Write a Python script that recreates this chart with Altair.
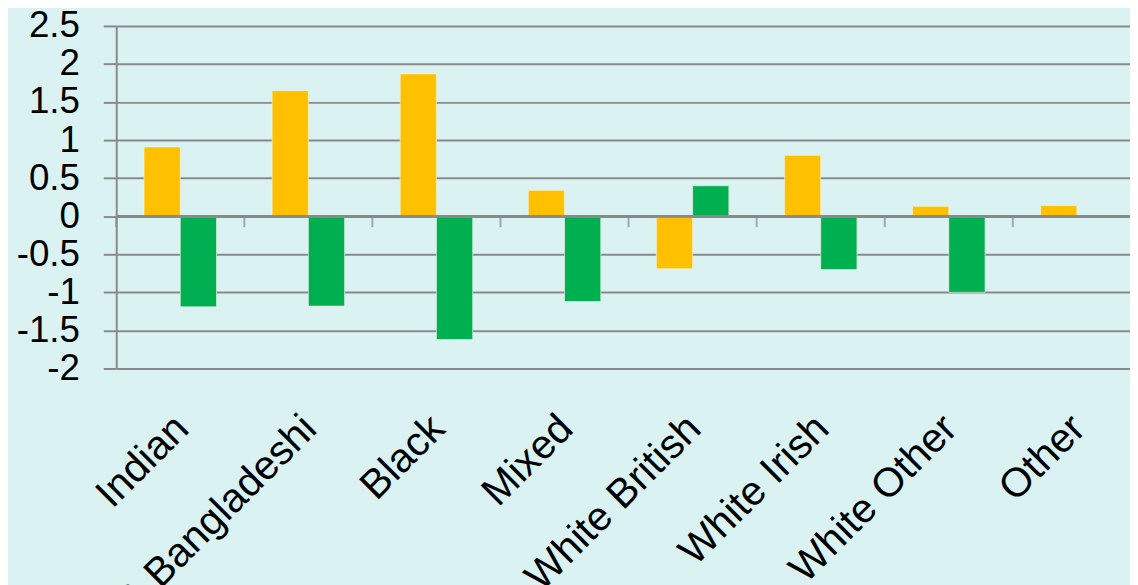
import altair as alt
import pandas as pd

categories = ["Indian", "Pakistani & Bangladeshi", "Black", "Mixed",
              "White British", "White Irish", "White Other", "Other"]
series_names = ["Series 1", "Series 2"]
yellow_values = [0.91, 1.65, 1.87, 0.34, -0.69, 0.80, 0.13, 0.14]
green_values = [-1.19, -1.18, -1.62, -1.12, 0.40, -0.70, -1.00, None]
y_ticks = [-2, -1.5, -1, -0.5, 0, 0.5, 1, 1.5, 2, 2.5]
colors = ["#FFC000", "#00B050"]

rows = []
for c, a, b in zip(categories, yellow_values, green_values):
    rows.append({"category": c, "series": series_names[0], "value": a})
    if b is not None:
        rows.append({"category": c, "series": series_names[1], "value": b})
df = pd.DataFrame(rows)
cat_df = pd.DataFrame({"category": categories})

GRAY = "#8A8A8A"
FONT = "Liberation Sans"
BG = "#DAF3F2"

x_scale = alt.Scale(domain=categories, range=[0, 1032], paddingInner=0, paddingOuter=0)
y_scale = alt.Scale(domain=[-2, 2.5], nice=False, zero=False)

x_axis = alt.Axis(orient="bottom", domain=False, ticks=False, grid=False,
                  labelAngle=-45, labelAlign="right", labelBaseline="middle",
                  labelFontSize=41, labelFont=FONT, labelColor="black",
                  labelPadding=54, labelOffset=2, labelLimit=0, labelOverlap=False)
y_axis = alt.Axis(values=y_ticks, labelExpr="'' + datum.value",
                  labelOverlap=False,
                  grid=True, gridColor=GRAY, gridWidth=2,
                  tickSize=13, tickColor=GRAY, tickWidth=2,
                  domainColor=GRAY, domainWidth=2,
                  labelFontSize=37, labelFont=FONT, labelColor="black",
                  labelPadding=24)

bars = alt.Chart(df).mark_bar(stroke="#F2F8E8", strokeWidth=1, strokeOpacity=0.6).encode(
    x=alt.X("category:N", sort=categories, scale=x_scale, title=None, axis=x_axis),
    xOffset=alt.XOffset("series:N", sort=series_names,
                        scale=alt.Scale(paddingInner=0, paddingOuter=0.767)),
    y=alt.Y("value:Q", scale=y_scale, title=None, axis=y_axis),
    color=alt.Color("series:N", sort=series_names,
                    scale=alt.Scale(domain=series_names, range=colors), legend=None),
)

zero_line = alt.Chart(cat_df).mark_rule(color=GRAY, strokeWidth=2).encode(
    y=alt.Y(datum=0, scale=y_scale, title=None, axis=y_axis)
)

ticks = alt.Chart(cat_df).mark_tick(orient="vertical", size=11, thickness=2,
                                    color=GRAY, yOffset=5.5).encode(
    x=alt.X("category:N", sort=categories, scale=x_scale, bandPosition=0,
            title=None, axis=x_axis),
    y=alt.Y(datum=0, scale=y_scale, title=None, axis=y_axis),
)

chart = alt.layer(bars, zero_line, ticks).properties(
    width=1021, height=345,
    autosize=alt.AutoSizeParams(type="none"),
    padding={"left": 109, "top": 16, "right": 0, "bottom": 216},
    background=BG,
).configure_view(stroke=None)

chart.save("out.html", embed_options={"renderer": "svg", "actions": False})
